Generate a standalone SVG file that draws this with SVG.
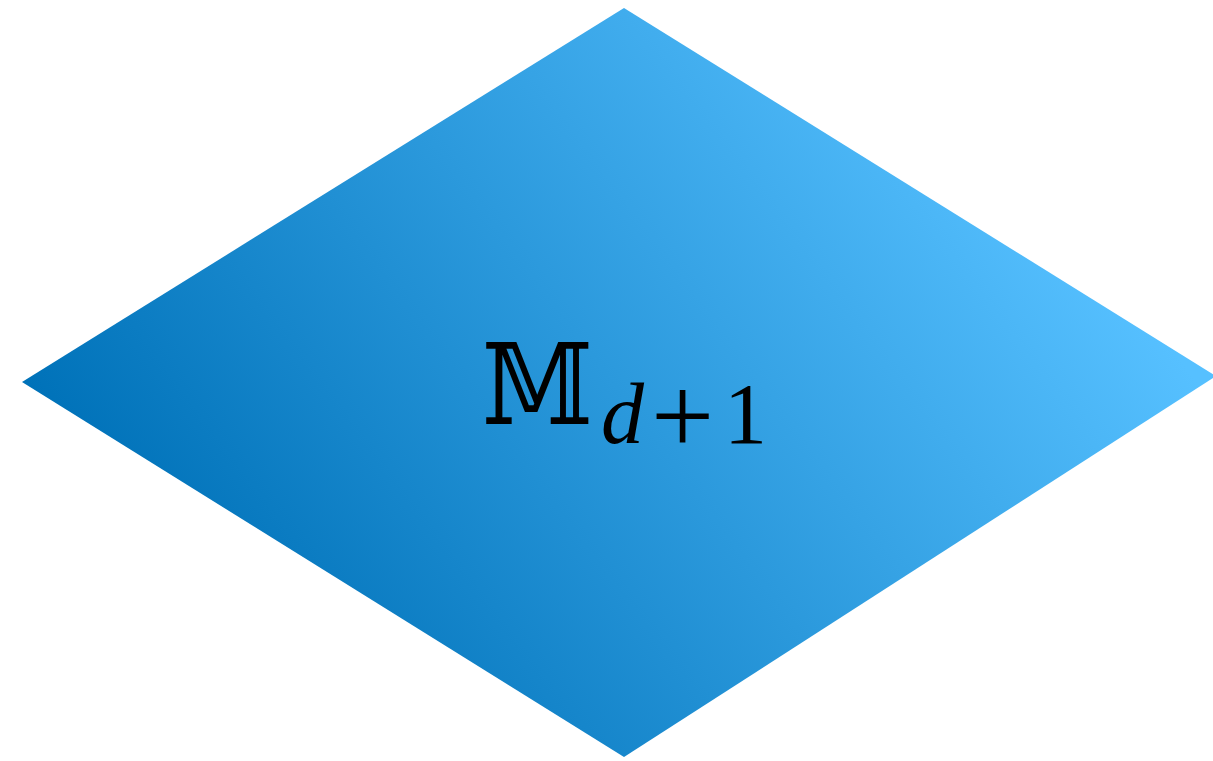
<svg xmlns="http://www.w3.org/2000/svg" width="1213" height="761" viewBox="0 0 1213 761">
<defs>
<linearGradient id="g" gradientUnits="userSpaceOnUse" x1="242" y1="668" x2="991" y2="107">
<stop offset="0" stop-color="#0072b9"/>
<stop offset="1" stop-color="#56c0ff"/>
</linearGradient>
<style>
.lbl{font-family:"DejaVu Serif","DejaVu Sans",serif;fill:#000}
.sub{font-family:"Liberation Serif",serif;fill:#000;font-size:86px}
</style>
</defs>
<g id="node-diamond">
<polygon points="624,8 1216,376 624,757 22,382" fill="url(#g)"/>
<text><tspan class="lbl" x="482" y="424" font-size="112" textLength="111" lengthAdjust="spacingAndGlyphs">𝕄</tspan><tspan class="sub" x="601" y="443" font-style="italic">d</tspan><tspan class="sub" x="651" y="454" style="font-size:112px">+</tspan><tspan class="sub" x="724" y="443">1</tspan></text>
</g>
<g id="connectors"/>
</svg>
